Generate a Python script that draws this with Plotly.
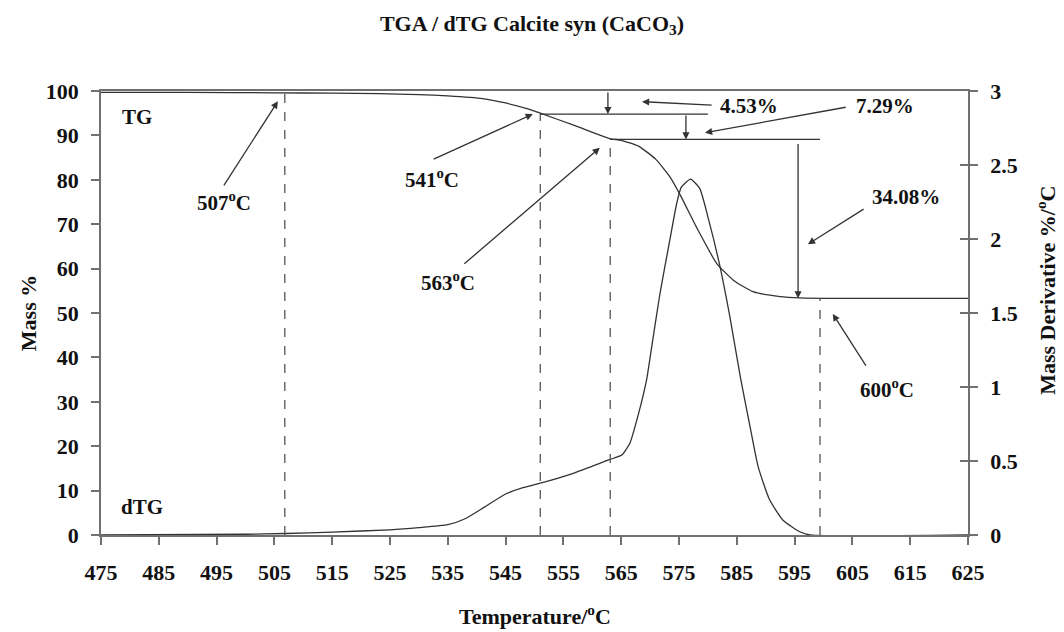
import plotly.graph_objects as go

# ---------------- data ----------------
tg_temp = [475, 490, 505, 515, 523, 530, 535, 541, 545, 549, 551, 557, 563, 565, 568, 571,
           573.4, 575.2, 578, 581.5, 584.4, 587.8, 592.5, 596, 600, 625]
tg_mass = [99.7, 99.7, 99.6, 99.5, 99.4, 99.2, 98.9, 98.3, 97.3, 95.9, 95.0, 92.2, 89.3, 88.9,
           87.6, 84.6, 80.7, 76.6, 69.4, 61.2, 57.4, 54.8, 53.7, 53.4, 53.3, 53.3]

dtg_temp = [475, 500, 507, 515, 525, 530, 535, 538, 541.4, 545, 548, 551, 556.7, 562.8, 565.1,
            566.5, 568, 569.4, 570, 571.7, 573.4, 574.6, 575.4, 577, 578.6, 580, 582, 583.8,
            585.6, 587.3, 588.7, 590.7, 593, 595.9, 597.7, 625]
dtg_val = [0.0, 0.005, 0.01, 0.02, 0.035, 0.05, 0.07, 0.11, 0.19, 0.277, 0.32, 0.35, 0.417,
           0.507, 0.54, 0.62, 0.82, 1.05, 1.2, 1.63, 1.99, 2.24, 2.35, 2.405, 2.34, 2.15,
           1.83, 1.475, 1.07, 0.73, 0.46, 0.236, 0.10, 0.022, 0.0, 0.0]

x_ticks = list(range(475, 626, 10))
y_ticks = list(range(0, 101, 10))
y2_ticks = [0, 0.5, 1, 1.5, 2, 2.5, 3]

# event markers (dashed lines): position on axis, top mass level, label
event_pos = [506.8, 551.0, 563.1, 599.4]
event_top = [99.6, 94.8, 89.1, 53.3]
event_labels = ["507<sup>o</sup>C", "541<sup>o</sup>C", "563<sup>o</sup>C", "600<sup>o</sup>C"]

# step levels (horizontal lines) and mass-loss labels
step_level = [94.8, 89.1]
step_start = [551.0, 563.1]
step_end = [580.0, 599.4]
loss_labels = ["4.53%", "7.29%", "34.08%"]

# ---------------- styling ----------------
FONT = "Liberation Serif"
TXT = "#111111"
LINE = "#333333"
AX = "#707070"

fig = go.Figure()

fig.add_trace(go.Scatter(x=tg_temp, y=tg_mass, mode="lines", yaxis="y",
                         line=dict(color=LINE, width=1.3, shape="spline", smoothing=0.5),
                         showlegend=False, hoverinfo="skip"))
fig.add_trace(go.Scatter(x=dtg_temp, y=dtg_val, mode="lines", yaxis="y2",
                         line=dict(color=LINE, width=1.3, shape="spline", smoothing=0.5),
                         showlegend=False, hoverinfo="skip"))
# invisible trace to activate the inner tick axis on the right
fig.add_trace(go.Scatter(x=[tg_temp[0]], y=[dtg_val[0]], mode="lines", yaxis="y3",
                         line=dict(width=0), showlegend=False, hoverinfo="skip"))

shapes = []
for p, top in zip(event_pos, event_top):
    shapes.append(dict(type="line", xref="x", yref="y", x0=p, x1=p, y0=0, y1=top,
                       line=dict(color="#555555", width=1.3, dash="dash")))
for lvl, s, e in zip(step_level, step_start, step_end):
    shapes.append(dict(type="line", xref="x", yref="y", x0=s, x1=e, y0=lvl, y1=lvl,
                       line=dict(color=LINE, width=1.3)))

annotations = []

def arrow(x_tail, y_tail, x_head, y_head):
    annotations.append(dict(x=x_head, y=y_head, ax=x_tail, ay=y_tail, xref="x", yref="y",
                            axref="x", ayref="y", text="", showarrow=True,
                            arrowhead=2, arrowsize=1.1, arrowwidth=1.3, arrowcolor=LINE))

def label(x, y, text):
    annotations.append(dict(x=x, y=y, xref="x", yref="y", text="<b>%s</b>" % text,
                            showarrow=False, font=dict(family=FONT, size=21, color=TXT)))

# vertical mass-loss arrows
arrow(562.7, 100, 562.7, 94.8)
arrow(576.2, 94.8, 576.2, 89.1)
arrow(595.6, 88.4, 595.6, 53.3)

# pointer arrows
arrow(496.1, 78.4, 505.6, 97.7)
arrow(532.3, 84.5, 549.7, 94.8)
arrow(537.6, 60.8, 561.3, 87.2)
arrow(607.5, 37.8, 601.6, 49.8)
arrow(580.9, 96.8, 568.6, 97.6)
arrow(604.1, 96.4, 579.5, 90.6)
arrow(607.2, 73.6, 597.3, 65.5)

label(496.3, 75.1, event_labels[0])
label(532.3, 80.2, event_labels[1])
label(535.0, 57.2, event_labels[2])
label(611.0, 33.1, event_labels[3])
label(587.1, 96.6, loss_labels[0])
label(610.6, 96.6, loss_labels[1])
label(614.3, 76.2, loss_labels[2])
label(481.2, 94.1, "TG")
label(482.1, 6.3, "dTG")

# axis titles
annotations.append(dict(x=0.5, y=-0.181, xref="paper", yref="paper", showarrow=False,
                        xanchor="center", yanchor="middle",
                        text="<b>Temperature/<sup>o</sup>C</b>",
                        font=dict(family=FONT, size=22, color=TXT)))
annotations.append(dict(x=-0.084, y=0.5, xref="paper", yref="paper", showarrow=False,
                        xanchor="center", yanchor="middle",
                        textangle=-90, text="<b>Mass %</b>",
                        font=dict(family=FONT, size=22, color=TXT)))
annotations.append(dict(x=1.09, y=0.55, xref="paper", yref="paper", showarrow=False,
                        xanchor="center", yanchor="middle",
                        textangle=-90, text="<b>Mass Derivative %/<sup>o</sup>C</b>",
                        font=dict(family=FONT, size=22, color=TXT)))

tickfont = dict(family=FONT, size=22, color=TXT, weight="bold")

fig.update_layout(
    width=1064, height=632,
    margin=dict(l=101, r=96, t=91, b=97),
    paper_bgcolor="white", plot_bgcolor="white",
    font=dict(family=FONT, color=TXT),
    title=dict(text="<b>TGA / dTG Calcite syn (CaCO<sub>3</sub>)</b>",
               x=0.5, xanchor="center", y=1 - 23 / 632, yanchor="middle", yref="container",
               font=dict(family=FONT, size=22, color=TXT)),
    xaxis=dict(range=[475, 625], tickvals=x_ticks, ticks="outside", ticklen=8,
               tickcolor=AX, tickwidth=1.5, showline=True, linecolor=AX, linewidth=1.5,
               mirror=True, showgrid=False, zeroline=False, tickfont=tickfont,
               ticklabelstandoff=9),
    yaxis=dict(range=[0, 100], tickvals=y_ticks, ticks="outside", ticklen=8,
               tickcolor=AX, tickwidth=1.5, showline=True, linecolor=AX, linewidth=1.5,
               showgrid=False, zeroline=False, tickfont=tickfont, ticklabelstandoff=8),
    yaxis2=dict(range=[0, 3], tickvals=y2_ticks, overlaying="y", side="right",
                ticks="outside", ticklen=8, tickcolor=AX, tickwidth=1.5, showline=True,
                linecolor=AX, linewidth=1.5, showgrid=False, zeroline=False,
                tickfont=tickfont, ticklabelstandoff=8),
    yaxis3=dict(range=[0, 3], tickvals=y2_ticks, overlaying="y", side="right",
                anchor="x", ticks="inside", ticklen=8, tickcolor=AX, tickwidth=1.5,
                showline=False, showgrid=False, zeroline=False, showticklabels=False),
    shapes=shapes,
    annotations=annotations,
    showlegend=False,
)

fig.write_html("out.html")
